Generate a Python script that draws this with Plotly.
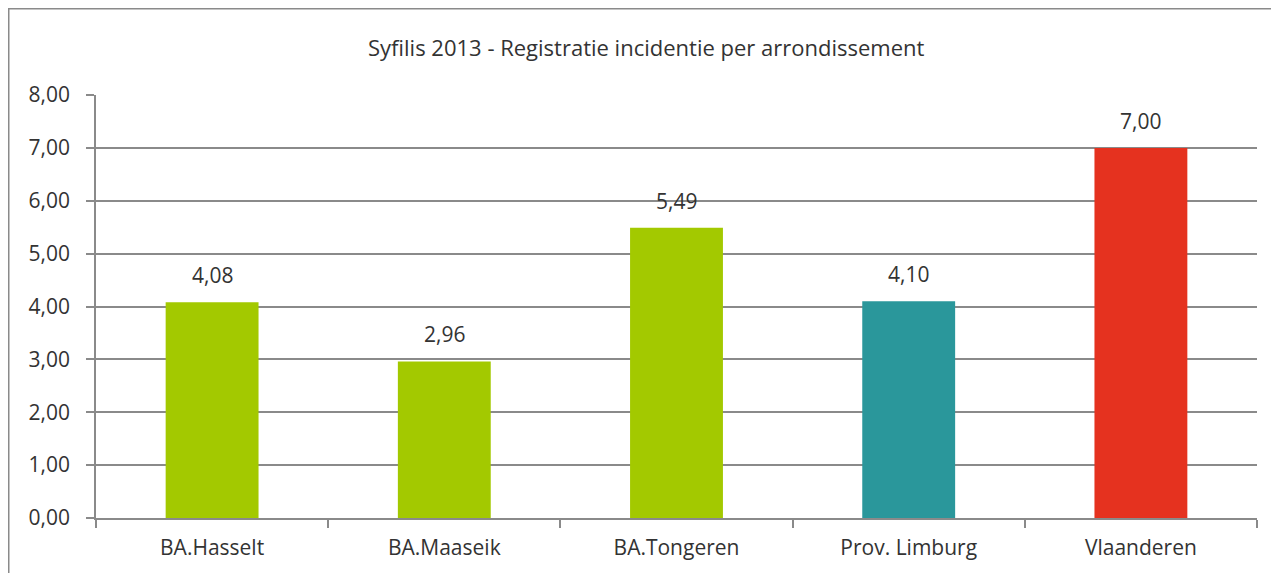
import plotly.graph_objects as go

categories = ["BA.Hasselt", "BA.Maaseik", "BA.Tongeren", "Prov. Limburg", "Vlaanderen"]
values = [4.08, 2.96, 5.49, 4.10, 7.00]
colors = ["#A3C900", "#A3C900", "#A3C900", "#2A979B", "#E5321F"]
title_text = "Syfilis 2013 - Registratie incidentie per arrondissement"

FONT = "'Open Sans', sans-serif"
GRAY = "#8A8A8A"
TXT = "#333333"

# body has 8px default margin: compensate
OX, OY = 8, 8
W, H = 1279 - 2 * OX, 581 - 2 * OY
L, R = 96 - OX, 1257 - OX
T, B = 95 - OY, 518 - OY
PW, PH = R - L, B - T

fig = go.Figure()
fig.add_trace(go.Bar(x=categories, y=values, marker=dict(color=colors, line=dict(width=0)),
                     width=0.4, hoverinfo="skip"))

for c, v in zip(categories, values):
    fig.add_annotation(x=c, y=v, text=f"{v:.2f}".replace(".", ","), showarrow=False,
                       yshift=27, font=dict(family=FONT, size=21, color=TXT))

fig.add_annotation(xref="paper", yref="paper", x=(646 - OX - L) / PW, y=(B - (47 - OY)) / PH,
                   text=title_text, showarrow=False, xanchor="center", yanchor="middle",
                   font=dict(family=FONT, size=22, color=TXT))

fig.add_shape(type="rect", xref="paper", yref="paper",
              x0=(0.75 - L) / PW, x1=(1300 - OX - L) / PW,
              y0=(B - 600) / PH, y1=(B - 0.75) / PH,
              line=dict(color=GRAY, width=1.5), fillcolor="rgba(0,0,0,0)", layer="below")

fig.update_layout(
    width=W, height=H,
    margin=dict(l=L, r=W - R, t=T, b=H - B),
    paper_bgcolor="white", plot_bgcolor="white",
    separators=",.",
    showlegend=False,
    bargap=0.6,
    font=dict(family=FONT, size=21, color=TXT),
    xaxis=dict(showline=True, linecolor=GRAY, linewidth=1.5, ticks="outside",
               tickson="boundaries", ticklen=8, tickcolor=GRAY, tickwidth=1.5,
               showgrid=False, tickfont=dict(family=FONT, size=21, color=TXT),
               ticklabelstandoff=10, fixedrange=True),
    yaxis=dict(range=[0, 8], dtick=1, tickformat=".2f", showline=True, linecolor=GRAY,
               linewidth=1.5, ticks="outside", ticklen=8, tickcolor=GRAY, tickwidth=1.5,
               showgrid=True, gridcolor=GRAY, gridwidth=1.5, zeroline=False,
               ticklabelstandoff=12,
               tickfont=dict(family=FONT, size=21, color=TXT), fixedrange=True),
)

fig.write_html("out.html")
